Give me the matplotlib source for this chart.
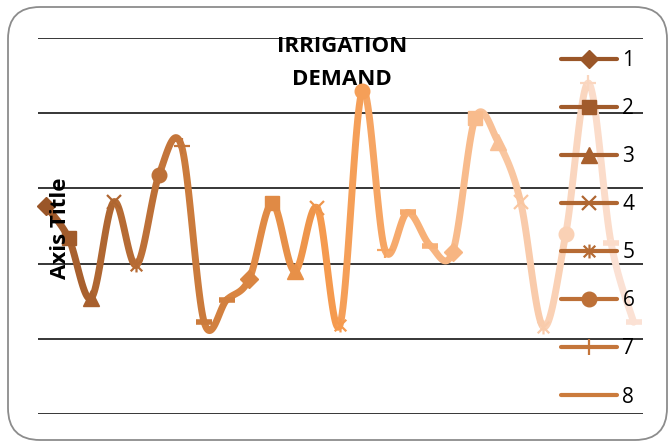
import numpy as np
import matplotlib.pyplot as plt
from matplotlib.colors import to_rgb
from matplotlib.patches import FancyBboxPatch
from matplotlib.path import Path
from matplotlib.lines import Line2D

plt.rcParams['font.family'] = ['Open Sans', 'DejaVu Sans']

# ======================
# data
# ======================
periods = list(range(1, 28))
demand = [138, 117, 77, 141, 99, 159, 178, 61, 76, 90, 140, 95, 137, 59, 215,
          109, 134, 112, 108, 197, 181, 141, 58, 120, 220, 114, 61]
legend_labels = ['1', '2', '3', '4', '5', '6', '7', '8']
title = 'IRRIGATION\nDEMAND'
y_ticks = [0, 50, 100, 150, 200, 250]

# ======================
# style
# ======================
# excel "vary colours by point": dark shade -> orange -> light tint
anchors = [(0, '#9A5628'), (13, '#F59A4E'), (26, '#FBE1D4')]


def shade(i):
    for (a, ca), (b, cb) in zip(anchors[:-1], anchors[1:]):
        if a <= i <= b:
            f = (i - a) / (b - a)
            return tuple(np.array(to_rgb(ca)) * (1 - f) + np.array(to_rgb(cb)) * f)
    return to_rgb(anchors[-1][1])


colors = [shade(i) for i in range(len(demand))]

star = Path([(-1, -1), (1, 1), (-1, 1), (1, -1), (0, -1.2), (0, 1.2)],
            [Path.MOVETO, Path.LINETO, Path.MOVETO, Path.LINETO, Path.MOVETO, Path.LINETO])
marker_cycle = [('D', 9, 1), ('s', 10, 1), ('^', 11, 1), ('x', 10, 1.6), (star, 10, 1.6),
                ('o', 10.5, 1), ('+', 11, 1.6), ('_', 11, 4), ('_', 11, 4)]


def smooth(x, y, k=30):
    # excel-like smoothed line: bezier segments with catmull-rom tangents
    P = np.column_stack([x, y]).astype(float)
    n = len(P)
    segs = []
    t = np.linspace(0, 1, k)[:, None]
    for i in range(n - 1):
        prev, nxt = max(i - 1, 0), min(i + 2, n - 1)
        p0, p3 = P[i], P[i + 1]
        c1 = p0 + (P[i + 1] - P[prev]) / 6
        c2 = p3 - (P[nxt] - P[i]) / 6
        b = (1 - t) ** 3 * p0 + 3 * (1 - t) ** 2 * t * c1 + 3 * (1 - t) * t ** 2 * c2 + t ** 3 * p3
        segs.append(b)
    return segs


fig = plt.figure(figsize=(6.7, 4.42), dpi=100)
fig.patch.set_facecolor('white')

border = FancyBboxPatch((0.08, 0.02), 6.59, 4.33, boxstyle='round,pad=0,rounding_size=0.32',
                        transform=fig.dpi_scale_trans, facecolor='white', edgecolor='#8c8c8c',
                        lw=1.3, zorder=-5)
fig.patches.append(border)

ax = fig.add_axes([38 / 670, 1 - 414 / 442, 605 / 670, 376 / 442])
ax.patch.set_visible(False)

x = np.arange(len(demand))
for i, seg in enumerate(smooth(x, demand)):
    ax.plot(seg[:, 0], seg[:, 1], color=colors[i + 1], lw=5,
            solid_capstyle='round', solid_joinstyle='round', zorder=2)

for i, v in enumerate(demand):
    m, ms, mew = marker_cycle[i % len(marker_cycle)]
    ax.plot(i, v, marker=m, ms=ms, mew=mew, color=colors[i], mfc=colors[i],
            mec=colors[i], zorder=3, clip_on=False)

for yt in y_ticks:
    ax.axhline(yt, color='black', lw=1.1, zorder=1)

ax.set_xlim(-0.354, 26.416)
ax.set_ylim(y_ticks[0], y_ticks[-1])
for s in ax.spines.values():
    s.set_visible(False)
ax.set_xticks([])
ax.set_yticks([])

fig.text(342 / 670, 1 - 63 / 442, title, ha='center', va='center', fontweight='bold',
         fontsize=16, linespacing=1.7, zorder=-1)
fig.text(60 / 670, 1 - 228 / 442, 'Axis Title', rotation=90, ha='center', va='center',
         fontweight='bold', fontsize=16)

handles = []
for k in range(len(legend_labels)):
    m, ms, mew = marker_cycle[k]
    if k == 7:
        m = 'None'
    handles.append(Line2D([], [], color=colors[k], lw=3, marker=m, ms=ms, mew=mew,
                          mfc=colors[k], mec=colors[k], solid_capstyle='round'))
fig.legend(handles, legend_labels, loc='upper left', bbox_to_anchor=(561 / 670, 1 - 50 / 442),
           frameon=False, fontsize=15, handlelength=2.7, labelspacing=1.3,
           handletextpad=0.25, borderpad=0, borderaxespad=0)

plt.savefig('out.png', dpi=100)
